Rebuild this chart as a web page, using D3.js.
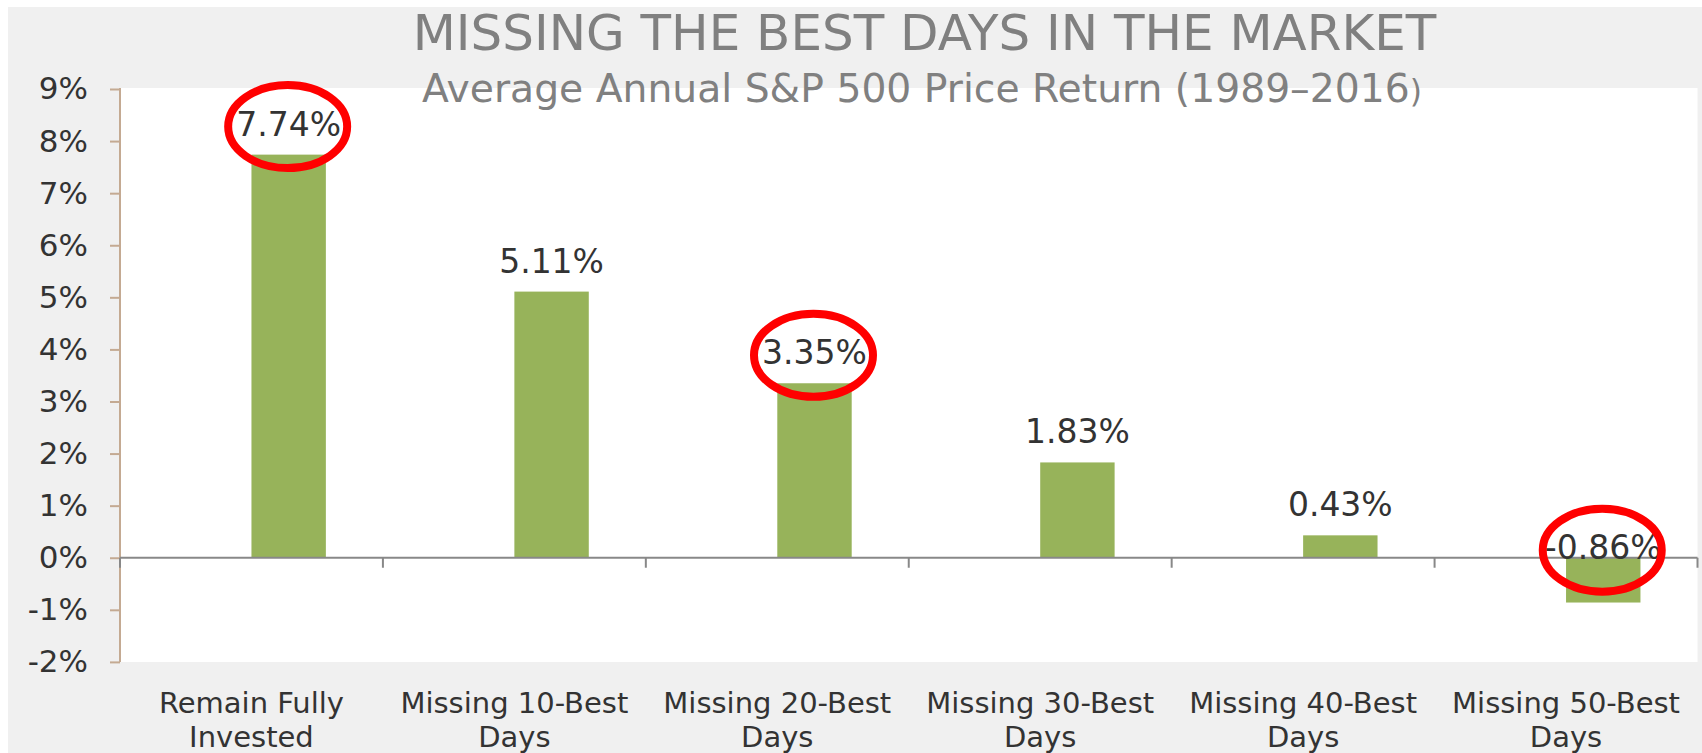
<!DOCTYPE html>
<html>
<head>
<meta charset="utf-8">
<script src="https://cdn.jsdelivr.net/npm/d3@7/dist/d3.min.js"></script>
<style>
  html, body { margin: 0; padding: 0; background: #ffffff; }
  svg { display: block; }
  text { font-family: "DejaVu Sans", Verdana, sans-serif; }
</style>
</head>
<body>
<svg id="chart" width="1702" height="753"></svg>
<script>
// ---- data ----
const categories = [
  ["Remain Fully", "Invested"],
  ["Missing 10-Best", "Days"],
  ["Missing 20-Best", "Days"],
  ["Missing 30-Best", "Days"],
  ["Missing 40-Best", "Days"],
  ["Missing 50-Best", "Days"]
];
const returns = [7.74, 5.11, 3.35, 1.83, 0.43, -0.86];
const valueLabels = ["7.74%", "5.11%", "3.35%", "1.83%", "0.43%", "-0.86%"];
const highlighted = [0, 2, 5];
const yTicks = [-2, -1, 0, 1, 2, 3, 4, 5, 6, 7, 8, 9];
const titleText = "MISSING THE BEST DAYS IN THE MARKET";
const subtitleText = "Average Annual S&P 500 Price Return (1989\u20132016";
const subtitleTail = ")";

// ---- layout ----
const W = 1702, H = 753;
const plot = { left: 120, right: 1697.5, top: 88, bottom: 662 };
const svg = d3.select("#chart");

svg.append("rect").attr("x", 8).attr("y", 7).attr("width", W - 8).attr("height", H - 7).attr("fill", "#f0f0f0");
svg.append("rect").attr("x", plot.left).attr("y", plot.top)
  .attr("width", plot.right - plot.left).attr("height", plot.bottom - plot.top).attr("fill", "#ffffff");

const idx = categories.map((c, i) => i);
const x = d3.scaleBand().domain(idx).range([plot.left, plot.right]).padding(0);
const y = d3.scaleLinear().domain([-2, 9]).range([661.9, 89]);
const barW = x.bandwidth() * 0.283;
const barX = i => x(i) + x.bandwidth() / 2;

// bars
svg.append("g").selectAll("rect").data(returns).join("rect")
  .attr("x", (d, i) => barX(i))
  .attr("width", barW)
  .attr("y", d => y(Math.max(0, d)))
  .attr("height", d => Math.abs(y(d) - y(0)))
  .attr("fill", "#97b35a");

// y axis
const yAxis = d3.axisLeft(y).tickValues(yTicks).tickFormat(d => d + "%").tickSize(10).tickPadding(22);
const gy = svg.append("g").attr("transform", `translate(${plot.left},0)`).call(yAxis);
gy.select(".domain").attr("stroke", "#c4aa92").attr("stroke-width", 2)
  .attr("d", `M0,${plot.top}V${plot.bottom}`);
gy.selectAll(".tick line").attr("stroke", "#c4aa92").attr("stroke-width", 2);
gy.selectAll(".tick text").attr("fill", "#333333").style("font-size", "31px")
  .style("font-family", '"DejaVu Sans", Verdana, sans-serif');

// zero line with category boundary ticks
const gx = svg.append("g");
gx.append("line").attr("x1", plot.left).attr("x2", plot.right)
  .attr("y1", y(0)).attr("y2", y(0)).attr("stroke", "#888888").attr("stroke-width", 2);
const bounds = idx.map(i => x(i)).concat([x(idx.length - 1) + x.bandwidth()]);
gx.selectAll("line.b").data(bounds).join("line").attr("class", "b")
  .attr("x1", d => d).attr("x2", d => d)
  .attr("y1", y(0)).attr("y2", y(0) + 10)
  .attr("stroke", "#888888").attr("stroke-width", 2);

// category labels
const cl = svg.append("g").selectAll("text").data(categories).join("text")
  .attr("text-anchor", "middle").attr("fill", "#333333").style("font-size", "29px");
cl.each(function(lines, i) {
  const t = d3.select(this);
  lines.forEach((ln, k) => {
    t.append("tspan").attr("x", x(i) + x.bandwidth() / 2).attr("y", 712.5 + k * 34).text(ln);
  });
});

// value labels
const labelY = d => d >= 0 ? y(d) - 19 : y(0) + 1.5;
svg.append("g").selectAll("text").data(returns).join("text")
  .attr("x", (d, i) => barX(i) + barW / 2)
  .attr("y", d => labelY(d))
  .attr("text-anchor", "middle").attr("fill", "#333333").style("font-size", "33px")
  .text((d, i) => valueLabels[i]);

// title
function fit(sel, target) {
  const w = sel.node().getComputedTextLength();
  const fs = parseFloat(sel.style("font-size"));
  sel.style("font-size", (fs * target / w) + "px");
}
const title = svg.append("text").attr("x", 924.5).attr("y", 50).attr("text-anchor", "middle")
  .attr("fill", "#808080").style("font-size", "49px").text(titleText);
fit(title, 1024);

const sub = svg.append("text").attr("x", 422).attr("y", 101.7).attr("fill", "#808080").style("font-size", "34px");
sub.append("tspan").text(subtitleText);
sub.append("tspan").style("font-size", "27px").text(subtitleTail);
fit(sub, 1000);
sub.select("tspan:last-child").style("font-size", "0.8em");

// highlight ellipses
svg.append("g").selectAll("ellipse").data(highlighted).join("ellipse")
  .attr("cx", i => barX(i) + barW / 2 - 1)
  .attr("cy", i => labelY(returns[i]) - 9)
  .attr("rx", 59.5).attr("ry", 41.5)
  .attr("fill", "none").attr("stroke", "#ff0000").attr("stroke-width", 8);
</script>
</body>
</html>
